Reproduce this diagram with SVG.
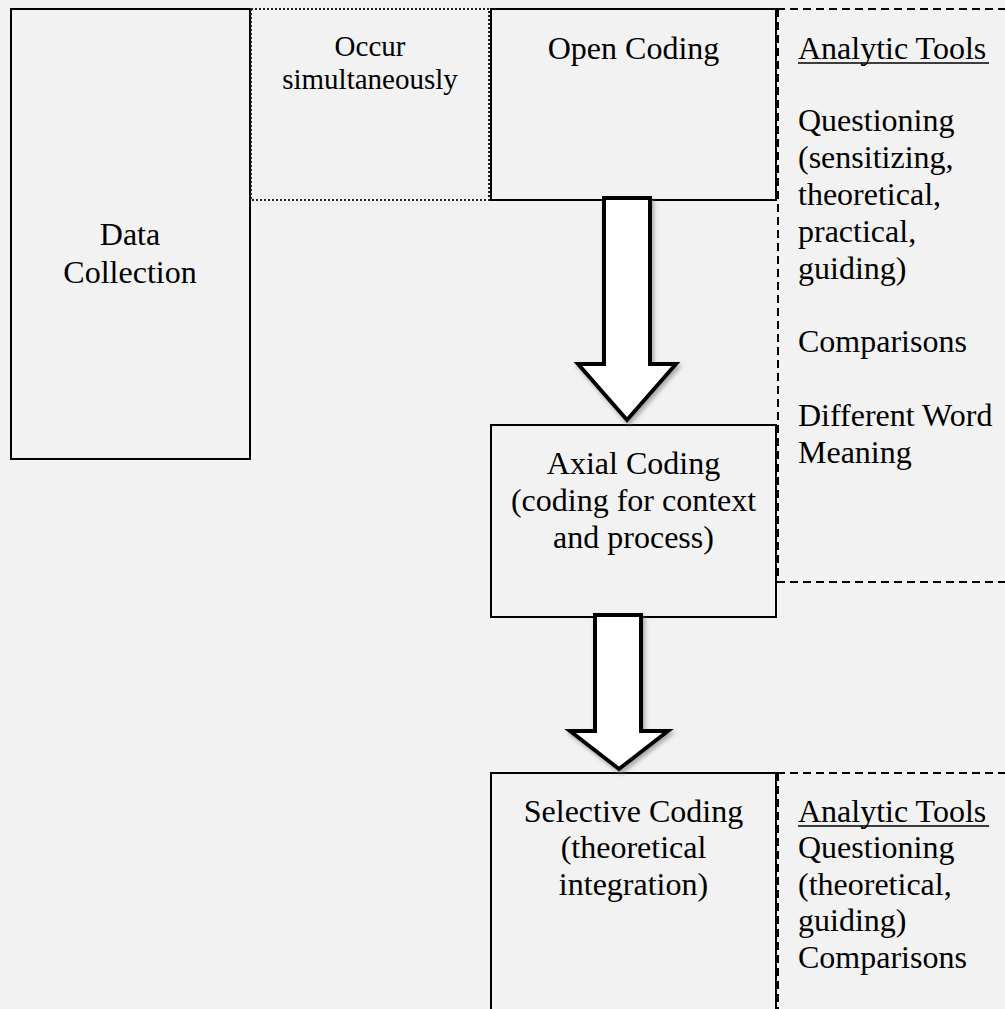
<svg xmlns="http://www.w3.org/2000/svg" width="1005" height="1009" viewBox="0 0 1005 1009">
<defs>
<style>
.box{fill:#f2f2f2;stroke:#000;stroke-width:2}
.dot{fill:none;stroke:#222;stroke-width:2;stroke-dasharray:2 2}
.dash{fill:none;stroke:#000;stroke-width:2;stroke-dasharray:8 5}
.t{font-family:"Liberation Serif","Times New Roman",serif;font-size:32px;fill:#000}
.c{text-anchor:middle}
.s{font-size:29px}
.arrow{fill:#fff;stroke:#000;stroke-width:4;stroke-linejoin:miter;stroke-miterlimit:10}
</style>
<filter id="sh" x="-30%" y="-10%" width="160%" height="130%">
<feDropShadow dx="2" dy="3" stdDeviation="2" flood-color="#777" flood-opacity="0.6"/>
</filter>
</defs>
<rect width="1005" height="1009" fill="#f2f2f2"/>

<g id="tools-top">
<path class="dash" d="M777,9 H1006 M778,9 V582 H1006"/>
<text class="t" x="798" y="59">Analytic Tools</text>
<line x1="798" y1="63" x2="989" y2="63" stroke="#000" stroke-width="1.5"/>
<text class="t" x="798" y="131">Questioning</text>
<text class="t" x="798" y="168">(sensitizing,</text>
<text class="t" x="798" y="205">theoretical,</text>
<text class="t" x="798" y="242">practical,</text>
<text class="t" x="798" y="279">guiding)</text>
<text class="t" x="798" y="352">Comparisons</text>
<text class="t" x="798" y="426">Different Word</text>
<text class="t" x="798" y="463">Meaning</text>
</g>

<g id="tools-bottom">
<path class="dash" d="M777,773 H1006 M778,773 V1010"/>
<text class="t" x="798" y="822">Analytic Tools</text>
<line x1="798" y1="826" x2="989" y2="826" stroke="#000" stroke-width="1.5"/>
<text class="t" x="798" y="858">Questioning</text>
<text class="t" x="798" y="895">(theoretical,</text>
<text class="t" x="798" y="931">guiding)</text>
<text class="t" x="798" y="968">Comparisons</text>
</g>

<g id="data-collection">
<rect class="box" x="11" y="9" width="239" height="450"/>
<text class="t c" x="130" y="245">Data</text>
<text class="t c" x="130" y="283">Collection</text>
</g>

<g id="occur">
<rect class="dot" x="251" y="9" width="238" height="191"/>
<text class="t c s" x="370" y="56">Occur</text>
<text class="t c s" x="370" y="89">simultaneously</text>
</g>

<g id="open-coding">
<rect class="box" x="491" y="9" width="285" height="191"/>
<text class="t c" x="633.5" y="59">Open Coding</text>
</g>

<g id="axial-coding">
<rect class="box" x="491" y="425" width="285" height="192"/>
<text class="t c" x="633.5" y="474">Axial Coding</text>
<text class="t c" x="633.5" y="511">(coding for context</text>
<text class="t c" x="633.5" y="548">and process)</text>
</g>

<g id="selective-coding">
<rect class="box" x="491" y="773" width="285" height="250"/>
<text class="t c" x="633.5" y="822">Selective Coding</text>
<text class="t c" x="633.5" y="858">(theoretical</text>
<text class="t c" x="633.5" y="895">integration)</text>
</g>

<g id="connectors">
<polygon class="arrow" filter="url(#sh)" points="604,198 650,198 650,364 676,364 627,420 578,364 604,364"/>
<polygon class="arrow" filter="url(#sh)" points="595,615 641,615 641,731 668,731 619,769 570,731 595,731"/>
</g>
</svg>
